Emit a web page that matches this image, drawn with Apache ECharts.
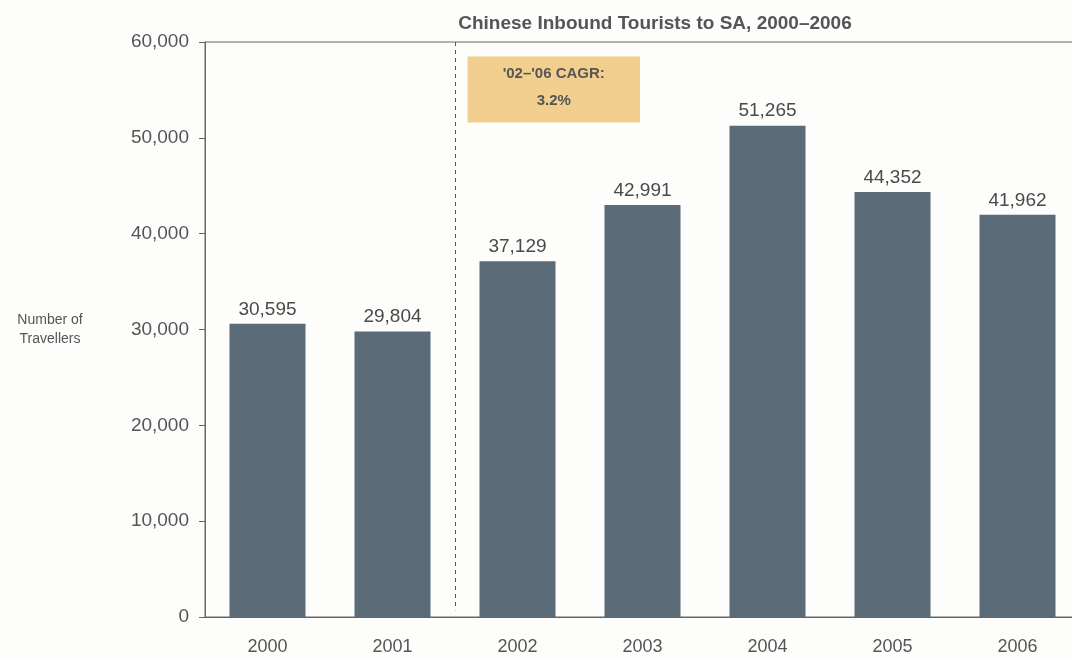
<!DOCTYPE html>
<html>
<head>
<meta charset="utf-8">
<script src="https://cdn.jsdelivr.net/npm/echarts@6/dist/echarts.min.js"></script>
<style>
  html, body { margin: 0; padding: 0; background: #fdfdfb; }
  #chart { width: 1072px; height: 659px; }
</style>
</head>
<body>
<div id="chart"></div>
<script>
// Chinese inbound tourists to South Africa, by year
const years = ['2000', '2001', '2002', '2003', '2004', '2005', '2006'];
const travellers = [30595, 29804, 37129, 42991, 51265, 44352, 41962];
const yTicks = [0, 10000, 20000, 30000, 40000, 50000, 60000];
const cagrLines = ["'02–'06 CAGR:", '3.2%'];
// the dashed divider sits between 2001 and 2002 (category index space)
const dividerAt = 1.5;

const fmt = v => v.toLocaleString('en-US');
const font = 'Liberation Sans, Arial, sans-serif';
const textGrey = '#555';

const chart = echarts.init(document.getElementById('chart'), null, { renderer: 'canvas' });

chart.setOption({
  backgroundColor: '#fdfdfb',
  animation: false,
  title: {
    text: 'Chinese Inbound Tourists to SA, 2000–2006',
    left: 650, top: 9, textAlign: 'center',
    textStyle: { fontFamily: font, fontSize: 19, fontWeight: 'bold', color: textGrey }
  },
  grid: {
    left: 205, top: 42, width: 875, height: 575,
    outerBoundsMode: 'none', containLabel: false,
    show: true, borderColor: '#666', borderWidth: 1, backgroundColor: 'transparent'
  },
  xAxis: [{
    type: 'category',
    data: years,
    axisLine: { onZero: false, lineStyle: { color: '#666' } },
    axisTick: { show: false },
    axisLabel: { fontFamily: font, fontSize: 18, color: textGrey, margin: 21 }
  }, {
    // helper axis in continuous index space for the divider and the note
    type: 'value', show: false,
    min: -0.5, max: years.length - 0.5
  }],
  yAxis: {
    type: 'value',
    min: yTicks[0], max: yTicks[yTicks.length - 1], interval: yTicks[1] - yTicks[0],
    name: 'Number of\nTravellers',
    nameLocation: 'middle', nameGap: 155, nameRotate: 0,
    nameTextStyle: { fontFamily: font, fontSize: 14, color: textGrey, lineHeight: 19, align: 'center' },
    axisLine: { show: true, onZero: false, lineStyle: { color: '#666' } },
    axisTick: { show: true, length: 6, lineStyle: { color: '#666' } },
    splitLine: { show: false },
    axisLabel: { fontFamily: font, fontSize: 19, color: textGrey, margin: 16, formatter: v => fmt(v) }
  },
  series: [{
    type: 'bar',
    data: travellers,
    barWidth: 76,
    itemStyle: { color: '#5b6b78' },
    label: {
      show: true, position: 'top', distance: 5,
      fontFamily: font, fontSize: 19, color: '#4a4a4a',
      formatter: p => fmt(p.value)
    }
  }, {
    type: 'line', xAxisIndex: 1, data: [],
    markLine: {
      silent: true, symbol: 'none',
      label: { show: false },
      lineStyle: { type: [4, 4], color: '#555', width: 1 },
      data: [[{ coord: [dividerAt, 60000] }, { coord: [dividerAt, 700] }]]
    }
  }]
});

// CAGR annotation box placed from data coordinates
function placeNote() {
  const tl = chart.convertToPixel({ xAxisIndex: 1, yAxisIndex: 0 }, [1.6, 58500]);
  const br = chart.convertToPixel({ xAxisIndex: 1, yAxisIndex: 0 }, [2.98, 51600]);
  const w = br[0] - tl[0], h = br[1] - tl[1];
  chart.setOption({
    graphic: [{
      type: 'group', x: tl[0], y: tl[1],
      children: [
        { type: 'rect', shape: { x: 0, y: 0, width: w, height: h }, style: { fill: '#f3cf8f' } },
        { type: 'text', x: w / 2, y: h * 0.27, style: { text: cagrLines[0], fill: textGrey, font: 'bold 15px ' + font, align: 'center', verticalAlign: 'middle' } },
        { type: 'text', x: w / 2, y: h * 0.68, style: { text: cagrLines[1], fill: textGrey, font: 'bold 15px ' + font, align: 'center', verticalAlign: 'middle' } }
      ]
    }]
  });
}
placeNote();
</script>
</body>
</html>
